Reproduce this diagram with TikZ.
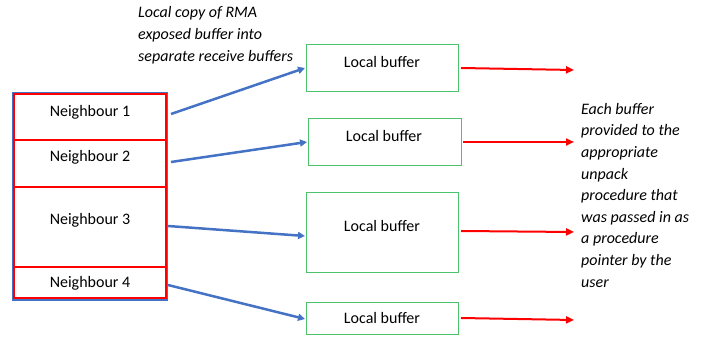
\documentclass[tikz,border=0pt]{standalone}
\usepackage{fontspec}
\setmainfont{Carlito}
\usetikzlibrary{arrows.meta}
\definecolor{bblue}{HTML}{4472C4}
\definecolor{gbox}{HTML}{4CC26C}
\definecolor{rred}{HTML}{FF0000}
\begin{document}
\begin{tikzpicture}[x=1pt,y=-1pt,
  buf/.style={draw=gbox,line width=0.9pt,font=\fontsize{16}{19}\selectfont},
  nb/.style={font=\fontsize{16}{19}\selectfont},
  barrow/.style={draw=bblue,line width=2.5pt,-{Triangle[length=7pt,width=7pt]}},
  rarrow/.style={draw=rred,line width=2pt,-{Triangle[length=8pt,width=7pt]}},
  note/.style={font=\itshape\fontsize{16}{21.6}\selectfont,align=left,anchor=north west,inner sep=0pt}]
\useasboundingbox (0,0) rectangle (705,339);
% left box
\draw[bblue,line width=2pt] (13,93) rectangle (167,300);
\draw[rred,line width=1.1pt] (14,94) rectangle (166,298);
\draw[rred,line width=1.1pt] (14,140) -- (166,140);
\draw[rred,line width=1.1pt] (14,187) -- (166,187);
\draw[rred,line width=1.1pt] (14,267) -- (166,267);
\node[nb] (n1) at (90,112) {Neighbour 1};
\node[nb] (n2) at (90,157) {Neighbour 2};
\node[nb] (n3) at (90,220) {Neighbour 3};
\node[nb] (n4) at (90,283) {Neighbour 4};
\coordinate (n1e) at (171,114);
\coordinate (n2e) at (171,162);
\coordinate (n3e) at (168,226);
\coordinate (n4e) at (168,285);
% buffers
\draw[buf] (306,44) rectangle (458,91);
\node[buf,draw=none] (b1) at (382,62) {Local buffer};
\draw[buf] (308,118) rectangle (461,165);
\node[buf,draw=none] (b2) at (384,136) {Local buffer};
\draw[buf] (306,192) rectangle (458,272);
\node[buf,draw=none] (b3) at (382,226) {Local buffer};
\draw[buf] (306,302) rectangle (458,334);
\node[buf,draw=none] (b4) at (382,318) {Local buffer};
\coordinate (b1w) at (305,68);
\coordinate (b2w) at (307,142);
\coordinate (b3w) at (305,236);
\coordinate (b4w) at (305,319);
\draw[barrow] (n1e) -- (b1w);
\draw[barrow] (n2e) -- (b2w);
\draw[barrow] (n3e) -- (b3w);
\draw[barrow] (n4e) -- (b4w);
% red arrows
\coordinate (r1s) at (461,68); \coordinate (r1e) at (574,70);
\coordinate (r2s) at (463,142); \coordinate (r2e) at (574,142);
\coordinate (r3s) at (461,231); \coordinate (r3e) at (574,232);
\coordinate (r4s) at (461,318); \coordinate (r4e) at (574,320);
\draw[rarrow] (r1s) -- (r1e);
\draw[rarrow] (r2s) -- (r2e);
\draw[rarrow] (r3s) -- (r3e);
\draw[rarrow] (r4s) -- (r4e);
% notes
\node[note,font=\itshape\fontsize{16}{22}\selectfont] (t1) at (138,6) {Local copy of RMA\\exposed buffer into\\separate receive buffers};
\node[note] (t2) at (581,103) {Each buffer\\provided to the\\appropriate\\unpack\\procedure that\\was passed in as\\a procedure\\pointer by the\\user};
\end{tikzpicture}
\end{document}
